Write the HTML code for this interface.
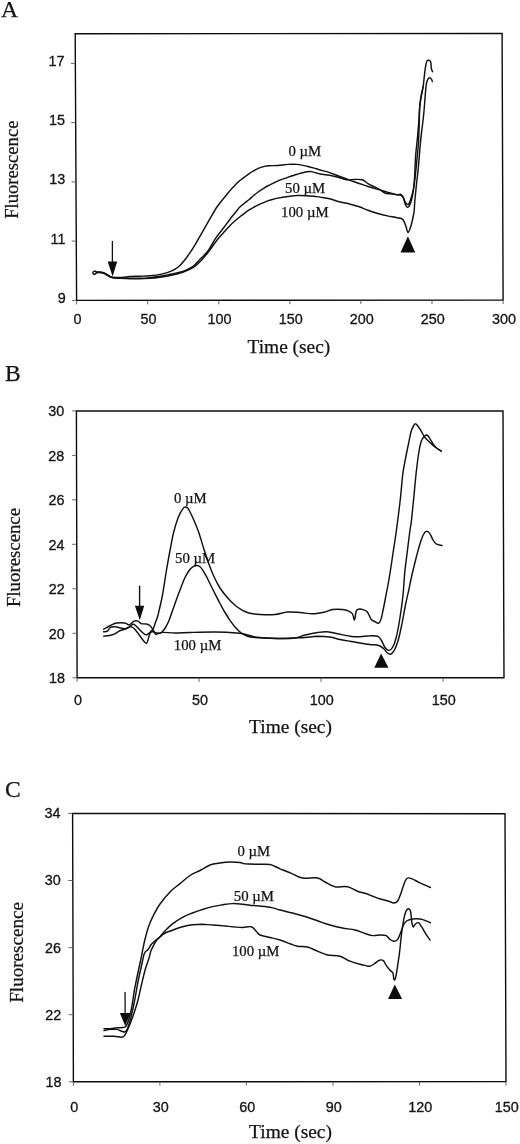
<!DOCTYPE html>
<html><head><meta charset="utf-8"><title>Fluorescence</title>
<style>html,body{margin:0;padding:0;background:#fff;}svg{display:block;filter:grayscale(1);}.s{font-family:"Liberation Serif",serif;fill:#141414;stroke:#141414;stroke-width:.25;}.n{font-family:"Liberation Sans",sans-serif;fill:#141414;stroke:#141414;stroke-width:.3;font-size:14.4px;}.ax{stroke:#0c0c0c;stroke-width:1.4;fill:none;stroke-linejoin:miter;}.tk{stroke:#666;stroke-width:1;fill:none;}.c{stroke:#111;stroke-width:1.45;fill:none;stroke-linejoin:round;stroke-linecap:round;}.k{fill:#0c0c0c;stroke:none;}</style></head><body>
<svg width="520" height="1144" viewBox="0 0 520 1144">
<rect x="0" y="0" width="520" height="1144" fill="#ffffff"/>
<g id="panelA">
<polygon class="ax" points="75.2,33.8 502.1,33.5 503.1,300 76.6,300.4"/>
<line class="tk" x1="70.9" y1="63.4" x2="74.9" y2="63.4"/>
<text class="n" transform="translate(64.6 65.9) scale(1 1.06)" text-anchor="end">17</text>
<line class="tk" x1="71.2" y1="122.6" x2="75.2" y2="122.6"/>
<text class="n" transform="translate(64.9 125.1) scale(1 1.06)" text-anchor="end">15</text>
<line class="tk" x1="71.5" y1="181.9" x2="75.5" y2="181.9"/>
<text class="n" transform="translate(65.2 184.4) scale(1 1.06)" text-anchor="end">13</text>
<line class="tk" x1="71.8" y1="241.1" x2="75.8" y2="241.1"/>
<text class="n" transform="translate(65.5 243.6) scale(1 1.06)" text-anchor="end">11</text>
<line class="tk" x1="72.1" y1="300.4" x2="76.1" y2="300.4"/>
<text class="n" transform="translate(65.8 302.9) scale(1 1.06)" text-anchor="end">9</text>
<line class="tk" x1="76.6" y1="300.9" x2="76.6" y2="304.4"/>
<text class="n" transform="translate(77.4 324.3) scale(1 1.06)" text-anchor="middle">0</text>
<line class="tk" x1="147.7" y1="300.8" x2="147.7" y2="304.3"/>
<text class="n" transform="translate(148.5 324.3) scale(1 1.06)" text-anchor="middle">50</text>
<line class="tk" x1="218.8" y1="300.8" x2="218.8" y2="304.3"/>
<text class="n" transform="translate(219.6 324.3) scale(1 1.06)" text-anchor="middle">100</text>
<line class="tk" x1="289.9" y1="300.7" x2="289.9" y2="304.2"/>
<text class="n" transform="translate(290.7 324.3) scale(1 1.06)" text-anchor="middle">150</text>
<line class="tk" x1="360.9" y1="300.6" x2="360.9" y2="304.1"/>
<text class="n" transform="translate(361.7 324.3) scale(1 1.06)" text-anchor="middle">200</text>
<line class="tk" x1="432" y1="300.6" x2="432" y2="304.1"/>
<text class="n" transform="translate(432.8 324.3) scale(1 1.06)" text-anchor="middle">250</text>
<line class="tk" x1="503.1" y1="300.5" x2="503.1" y2="304"/>
<text class="n" transform="translate(503.9 324.3) scale(1 1.06)" text-anchor="middle">300</text>
<text class="s" x="1.1" y="16.8" font-size="23.6">A</text>
<text class="s" font-size="18.65" text-anchor="middle" transform="translate(17.8 169.7) rotate(-90)">Fluorescence</text>
<text class="s" font-size="19.4" text-anchor="middle" x="288.9" y="353.2">Time (sec)</text>
<path class="c" d="M96.8 272C96.6 271.9 96 271.4 95.5 271.3C95 271.2 94 271.2 93.6 271.5C93.1 271.8 92.8 272.4 92.8 272.8C92.8 273.2 93.2 273.8 93.6 274C94 274.2 94.8 274.2 95.3 274C95.8 273.8 96 273 96.6 272.7C97.2 272.4 98.2 272.1 99 272C99.8 271.9 100.8 272.1 101.5 272.2C102.2 272.3 102.8 272.4 103.5 272.7C104.2 273 105.1 273.5 106 274C106.9 274.5 107.9 275.2 109 275.8C110.1 276.4 110.9 277 112.7 277.3C114.5 277.6 117.8 277.4 120 277.4C122.2 277.3 124.3 277.1 126 277C127.7 276.9 127.7 276.6 130 276.5C132.3 276.4 136.7 276.3 140 276.2C143.3 276.1 146.4 276.1 150 275.8C153.6 275.5 158 274.9 161.5 274.1C165 273.3 168.3 272.5 171.2 271.2C174.1 269.9 176.2 268.8 178.8 266.5C181.4 264.2 183.9 261.1 186.5 257.7C189.1 254.3 191.6 250.3 194.2 246.2C196.8 242 199.3 237.3 201.9 232.8C204.5 228.3 207 223.7 209.6 219.3C212.2 214.9 214.7 210.3 217.3 206.5C219.9 202.7 222.9 199.3 225 196.7C227.1 194 228.4 192.5 230 190.6C231.6 188.7 233.2 187 234.8 185.4C236.4 183.8 238 182.2 239.6 180.8C241.2 179.4 242.8 178.4 244.4 177.2C246 176 247.6 174.7 249.2 173.6C250.8 172.5 252.4 171.6 254 170.7C255.6 169.8 257.2 168.9 258.8 168.2C260.4 167.5 262.1 167 263.7 166.6C265.3 166.2 266.1 165.9 268.5 165.7C270.9 165.5 274.8 165.7 278 165.5C281.2 165.3 284.5 164.6 287.7 164.4C290.9 164.2 294.1 164.1 297.3 164.4C300.5 164.7 303.7 165.5 306.9 166.2C310.1 166.9 314.3 168.2 316.5 168.8C318.7 169.4 317.8 169.4 320 170C322.2 170.6 326.4 171.6 329.6 172.6C332.8 173.6 336 175 339.2 176.2C342.4 177.4 345.6 178.7 348.8 179.9C352 181.1 355.3 182.1 358.5 183.2C361.7 184.3 364.8 185.5 368 186.5C371.2 187.5 374.5 188.5 377.7 189.4C380.9 190.3 384.1 191.3 387.3 192.2C390.5 193.1 394.8 194.2 397 194.6C399.2 194.9 399.4 194 400.4 194.3C401.3 194.6 402.1 195.3 402.7 196.4C403.3 197.5 403.7 199.3 404.2 200.8C404.7 202.3 405.2 204.3 405.8 205.4C406.4 206.5 407.1 207.5 407.8 207.4C408.5 207.3 409.2 206.1 409.9 204.6C410.6 203.1 411.3 201.1 411.9 198.5C412.5 195.9 413.1 192.5 413.5 189.2C413.9 185.9 414.1 184.2 414.5 178.5C414.9 172.8 415.2 161.6 415.7 155C416.2 148.4 416.8 144.5 417.3 139.2C417.8 133.9 418.3 128.3 418.7 123.4C419.1 118.5 419.3 112.8 419.5 110C419.7 107.2 419.4 108.6 419.7 106.5C419.9 104.4 420.4 100.5 421 97.2C421.6 93.9 422.6 90.2 423.1 86.7C423.7 83.2 423.9 79.7 424.3 76.2C424.7 72.7 425.3 68.2 425.7 65.7C426.1 63.2 426.4 62.1 426.8 61.2C427.2 60.3 427.7 60.2 428.3 60.2C428.9 60.2 429.8 60.6 430.2 61.2C430.6 61.8 430.8 62.5 431 63.6C431.2 64.7 431 66.6 431.2 67.8C431.4 69 431.8 69.8 432 70.5C432.2 71.2 432.6 71.6 432.7 71.8"/>
<path class="c" d="M96.5 272.4C96.9 272.4 97.8 272.2 99 272.3C100.2 272.4 102.3 272.6 103.5 272.9C104.7 273.2 105.1 273.7 106 274.2C106.9 274.7 107.9 275.4 109 276C110.1 276.6 110.9 277.3 112.7 277.6C114.5 277.9 117.1 277.9 120 278C122.9 278.1 126.7 278.1 130 278.2C133.3 278.2 136.7 278.4 140 278.3C143.3 278.2 146.7 277.9 150 277.6C153.3 277.3 156.8 276.8 160 276.3C163.2 275.8 165.4 275.3 169.2 274.5C173 273.7 178.8 272.7 182.7 271.4C186.5 270.1 189.4 268.9 192.3 266.9C195.2 264.9 197.4 261.8 200 259.2C202.6 256.6 205.1 254.7 207.7 251.3C210.3 247.9 212.8 242.4 215.4 238.6C218 234.8 220.7 231.7 223.1 228.5C225.5 225.3 228.1 221.8 230 219.2C231.9 216.6 233.2 215.2 234.8 213.2C236.4 211.2 238 209 239.6 207.3C241.2 205.7 242.8 204.6 244.4 203.3C246 202 247.6 200.8 249.2 199.5C250.8 198.2 252.4 196.5 254 195.2C255.6 193.9 257.2 192.7 258.8 191.5C260.4 190.3 262.1 189.3 263.7 188.3C265.3 187.3 266.9 186.3 268.5 185.5C270.1 184.7 271.7 184 273.3 183.2C274.9 182.4 275.6 181.8 278 180.8C280.4 179.8 284.5 178.5 287.7 177.4C290.9 176.3 294.1 175.2 297.3 174.3C300.5 173.4 304.6 172.2 306.9 171.8C309.2 171.4 309.4 171.4 311 171.6C312.6 171.8 315 172.6 316.5 173C318 173.4 317.8 173.6 320 174C322.2 174.4 326.4 174.6 329.6 175.2C332.8 175.8 336.3 176.7 339.2 177.5C342.1 178.3 344.3 179.5 346.9 179.8C349.5 180.1 352 179.4 354.6 179.4C357.2 179.4 360.1 179.1 362.3 179.8C364.5 180.5 366.1 182.6 368 183.7C369.9 184.8 371.9 185.6 373.8 186.5C375.7 187.4 377.7 188.3 379.6 189.4C381.5 190.5 383.5 192.6 385.4 193.3C387.3 194 389.3 193.5 391.2 193.8C393.1 194.1 395.5 194.7 397 194.9C398.5 195.1 399.4 194.8 400.4 195.2C401.4 195.6 402.4 196.3 403.2 197.4C404 198.5 404.4 200.4 405 201.5C405.6 202.6 406 203.3 406.5 203.8C407 204.3 407.6 204.8 408.1 204.6C408.6 204.3 409 203.7 409.6 202.3C410.2 201 410.8 198.9 411.5 196.5C412.2 194.1 413.1 191.6 413.7 188C414.3 184.4 414.9 179.7 415.4 175C415.9 170.3 416.4 165 416.9 160C417.4 155 417.9 150.8 418.3 145C418.7 139.2 419 131.2 419.2 125C419.4 118.8 419.4 112.6 419.7 108C420 103.4 420.4 100.8 421 97.2C421.6 93.7 422.8 88.5 423.1 86.7"/>
<path class="c" d="M96.5 272.8C96.9 272.8 97.8 272.5 99 272.6C100.2 272.7 102.3 272.9 103.5 273.2C104.7 273.5 105.1 274 106 274.5C106.9 275 107.9 275.7 109 276.3C110.1 276.9 110.9 277.5 112.7 277.9C114.5 278.2 117.1 278.3 120 278.4C122.9 278.5 126.7 278.6 130 278.7C133.3 278.8 136.7 278.9 140 278.8C143.3 278.8 146.7 278.6 150 278.4C153.3 278.1 156.8 277.7 160 277.3C163.2 276.9 165.4 276.6 169.2 275.8C173 275 178.5 273.8 182.7 272.3C186.9 270.8 191 269 194.2 266.9C197.4 264.8 199.3 262.5 201.9 259.7C204.5 256.9 207 253.6 209.6 250.3C212.2 247 214.7 242.9 217.3 239.7C219.9 236.5 222.9 233.4 225 231C227.1 228.6 228.4 227.2 230 225.5C231.6 223.8 233.2 222.4 234.8 221C236.4 219.6 238 218.3 239.6 217C241.2 215.7 242.8 214.5 244.4 213.3C246 212.1 247.6 210.9 249.2 209.9C250.8 208.9 252.4 208.1 254 207.2C255.6 206.3 257.2 205.4 258.8 204.6C260.4 203.8 262.1 203.3 263.7 202.6C265.3 201.9 266.9 201.1 268.5 200.6C270.1 200.1 271.7 199.7 273.3 199.3C274.9 198.9 275.6 198.6 278 198.1C280.4 197.6 284.5 196.9 287.7 196.5C290.9 196.1 294.1 195.6 297.3 195.5C300.5 195.4 303.7 195.5 306.9 195.7C310.1 195.9 314.3 196.4 316.5 196.6C318.7 196.8 317.8 196.7 320 197.1C322.2 197.5 326.4 198 329.6 198.8C332.8 199.6 336 200.9 339.2 201.7C342.4 202.5 345.6 203 348.8 203.8C352 204.6 355.3 205.4 358.5 206.5C361.7 207.6 364.8 209.1 368 210.3C371.2 211.5 374.5 212.6 377.7 213.5C380.9 214.4 384.1 215.2 387.3 215.9C390.5 216.6 394.4 217.1 397 217.7C399.6 218.3 401.3 218.1 402.7 219.4C404.1 220.7 404.7 223.1 405.6 225.3C406.5 227.5 407.2 232.6 408.1 232.5C409 232.4 410.2 228.2 411.2 225C412.1 221.8 413.2 216.7 413.8 213.5C414.4 210.3 414.3 208.4 414.5 206C414.7 203.6 414.6 202.8 415 199C415.4 195.2 416.1 188.2 416.6 183C417.2 177.8 417.7 174.4 418.3 168C418.9 161.6 419.7 151 420.3 144.4C420.9 137.8 421.4 133.6 422 128.7C422.6 123.8 423.2 119.4 423.6 115C424.1 110.6 424.4 106.3 424.7 102.5C425 98.7 425.2 95.2 425.5 92C425.8 88.8 426 85.7 426.4 83.6C426.8 81.5 427.2 80.4 427.8 79.4C428.4 78.4 429.1 77.8 429.7 77.8C430.3 77.8 431.1 78.8 431.5 79.4C431.9 80 432.2 81.2 432.3 81.5"/>
<line class="c" style="stroke-width:1.3" x1="112.4" y1="241.5" x2="112.4" y2="262.5"/>
<polygon class="k" points="107.7,261.5 117.2,261.5 112.6,276.5"/>
<polygon class="k" points="407.9,236.3 415.3,252.4 400.5,252.4"/>
<text class="s" font-size="14.8" x="288.5" y="156.3">0 µM</text>
<text class="s" font-size="14.8" x="285" y="193">50 µM</text>
<text class="s" font-size="14.8" x="281" y="216.6">100 µM</text>
</g>
<g id="panelB">
<polygon class="ax" points="76.4,410.9 503,411 504,677.8 77.1,677.8"/>
<line class="tk" x1="71.9" y1="410.9" x2="75.9" y2="410.9"/>
<text class="n" transform="translate(64.2 416.2) scale(1 1.06)" text-anchor="end">30</text>
<line class="tk" x1="72" y1="455.4" x2="76" y2="455.4"/>
<text class="n" transform="translate(64.3 460.7) scale(1 1.06)" text-anchor="end">28</text>
<line class="tk" x1="72.1" y1="499.8" x2="76.1" y2="499.8"/>
<text class="n" transform="translate(64.4 505.1) scale(1 1.06)" text-anchor="end">26</text>
<line class="tk" x1="72.2" y1="544.3" x2="76.2" y2="544.3"/>
<text class="n" transform="translate(64.5 549.6) scale(1 1.06)" text-anchor="end">24</text>
<line class="tk" x1="72.4" y1="588.8" x2="76.4" y2="588.8"/>
<text class="n" transform="translate(64.7 594.1) scale(1 1.06)" text-anchor="end">22</text>
<line class="tk" x1="72.5" y1="633.3" x2="76.5" y2="633.3"/>
<text class="n" transform="translate(64.8 638.6) scale(1 1.06)" text-anchor="end">20</text>
<line class="tk" x1="72.6" y1="677.8" x2="76.6" y2="677.8"/>
<text class="n" transform="translate(64.9 683) scale(1 1.06)" text-anchor="end">18</text>
<line class="tk" x1="77.1" y1="678.2" x2="77.1" y2="681.8"/>
<text class="n" transform="translate(77.9 704.5) scale(1 1.06)" text-anchor="middle">0</text>
<line class="tk" x1="199.1" y1="678.2" x2="199.1" y2="681.8"/>
<text class="n" transform="translate(199.9 704.5) scale(1 1.06)" text-anchor="middle">50</text>
<line class="tk" x1="321" y1="678.2" x2="321" y2="681.8"/>
<text class="n" transform="translate(321.8 704.5) scale(1 1.06)" text-anchor="middle">100</text>
<line class="tk" x1="443" y1="678.2" x2="443" y2="681.8"/>
<text class="n" transform="translate(443.8 704.5) scale(1 1.06)" text-anchor="middle">150</text>
<text class="s" x="4.9" y="381.3" font-size="23.6">B</text>
<text class="s" font-size="18.8" text-anchor="middle" transform="translate(20.2 557.5) rotate(-90)">Fluorescence</text>
<text class="s" font-size="19.4" text-anchor="middle" x="290.5" y="733">Time (sec)</text>
<path class="c" d="M103.6 631.8C104.2 631.6 106.2 631.8 107.4 631.1C108.6 630.4 109.2 628.1 110.5 627.4C111.8 626.7 113.8 626.6 115.5 626.8C117.2 626.9 118.9 627.7 120.5 628C122.1 628.3 123.4 628.8 124.9 628.6C126.4 628.4 127.9 627.5 129.2 626.8C130.6 626 132 624.5 133 624.2C134 624 133.8 624 135.5 625.5C137.2 627 141.2 631.4 143 633C144.8 634.6 145.2 634.8 146.1 634.9C147 635 147.8 634.2 148.6 633.6C149.4 633 150.4 631.8 151.1 631.1C151.8 630.4 152.2 630.8 153 629.2C153.8 627.7 154.9 624.1 155.7 621.8C156.5 619.4 156.9 619.5 158 615C159.1 610.5 161.1 602.5 162.5 595C163.9 587.5 165.2 577.5 166.5 570C167.8 562.5 168.9 556.2 170.1 550C171.3 543.8 172.2 537.9 173.6 532.5C174.9 527.1 176.7 521.5 178.2 517.5C179.7 513.5 181.6 510.5 182.8 508.8C184 507 184.5 506.9 185.5 507C186.5 507.1 187.4 507.3 188.8 509.5C190.1 511.7 192.1 516.2 193.8 520C195.4 523.8 197.1 527.7 198.8 532.5C200.4 537.3 202.1 543.5 203.8 548.8C205.4 554 207.1 559.2 208.8 563.8C210.4 568.3 211.9 572.3 213.8 576.3C215.6 580.3 217.7 584.4 220 588C222.3 591.6 225 594.8 227.5 597.7C230 600.6 232.5 603.1 235 605.2C237.5 607.3 240 608.9 242.5 610.3C245 611.6 247.1 612.6 250 613.3C252.9 614 255.8 614.3 260 614.5C264.2 614.7 270.4 614.9 275 614.5C279.6 614.1 283.3 612.3 287.5 612C291.7 611.7 295.8 612.2 300 612.5C304.2 612.8 308.3 613.8 312.5 613.8C316.7 613.7 321.7 612.7 325 612C328.3 611.3 329.6 609.9 332.5 609.5C335.4 609.1 339.8 609.2 342.5 609.5C345.2 609.8 347.1 610.5 348.8 611.2C350.4 612 351.5 612.3 352.5 613.8C353.5 615.2 353.9 620.4 354.5 620C355.1 619.6 355.6 613 356.2 611.2C356.9 609.5 357.4 609.5 358.5 609.2C359.6 608.9 361.7 609.2 363.1 609.6C364.5 610 365.9 610.5 366.9 611.5C367.9 612.5 368.4 614 369.2 615.4C370 616.8 370.6 618.8 371.5 619.8C372.4 620.8 373.4 620.9 374.6 621.5C375.8 622.1 377.4 623.6 378.5 623.3C379.6 623 380.1 621.7 380.9 619.5C381.7 617.3 382.4 613.3 383.1 610C383.8 606.7 384.2 604.9 385.2 599.5C386.2 594.1 388 585.3 389.3 577.5C390.6 569.7 391.9 560.8 393.1 552.5C394.4 544.2 395.6 536.7 396.8 527.5C398 518.3 399.5 506.7 400.5 497.5C401.5 488.3 402 479.6 403 472.5C404 465.4 405.3 460 406.2 455C407.2 450 407.9 446.5 408.8 442.5C409.6 438.5 410.4 434.1 411.2 431.2C412.1 428.4 413 426.8 413.8 425.5C414.5 424.2 414.8 423.6 415.5 423.8C416.2 423.9 417 425 418 426.2C419 427.5 420.1 429.4 421.2 431.2C422.4 433.1 423.5 435.6 425 437.5C426.5 439.4 428.3 440.9 430 442.5C431.7 444.1 433.1 445.5 435 447C436.9 448.5 440.2 450.5 441.2 451.2"/>
<path class="c" d="M103.6 636.1C104.5 636 107.5 635.8 109.2 635.5C111 635.2 112.6 635 114.2 634.2C115.9 633.5 117.5 631.9 119.2 631.1C121 630.3 123.2 629.9 124.9 629.2C126.6 628.6 128.1 627.8 129.2 627.4C130.4 627 130.7 626.3 131.8 626.8C132.8 627.2 134 628.2 135.5 629.9C137 631.6 138.8 634.6 140.5 636.8C142.2 638.9 144.3 642.2 145.5 643C146.7 643.8 146.8 643 147.4 641.8C148 640.5 148.7 637.1 149.2 635.5C149.8 633.9 149.9 633 150.5 632.4C151.1 631.8 152 631.6 153 631.8C154 631.9 155.6 632.7 156.8 633C157.9 633.3 159 633.5 160 633.3C161 633 161.6 632.5 162.5 631.5C163.4 630.5 164.4 629.3 165.5 627.5C166.6 625.7 167.5 624.2 169 620.5C170.5 616.8 172.7 610.1 174.5 605C176.3 599.9 178.2 594.6 180 590C181.8 585.4 183.4 580.8 185 577.5C186.6 574.2 188.1 571.9 189.5 570C190.9 568.1 192.3 567.1 193.5 566.4C194.7 565.6 195.4 565.4 196.5 565.5C197.6 565.6 198.6 565.4 200 566.8C201.4 568.1 203.3 570.9 205 573.8C206.7 576.6 208.3 580.4 210 583.8C211.7 587.1 213.3 590.5 215 593.8C216.7 597 218.3 600.4 220 603.5C221.7 606.6 223.3 609.7 225 612.5C226.7 615.3 228.3 617.9 230 620.3C231.7 622.7 233.1 624.9 235 627C236.9 629.1 239.2 631.5 241.2 633C243.3 634.5 245.2 635.5 247.5 636.2C249.8 637 252.1 637.2 255 637.5C257.9 637.8 260.8 637.8 265 638C269.2 638.2 275 638.5 280 638.5C285 638.5 290.8 638.6 295 638C299.2 637.4 301.2 635.9 305 635C308.8 634.1 313.8 633 317.5 632.5C321.2 632 324.2 631.5 327.5 631.8C330.8 632 333.8 633 337.5 633.8C341.2 634.5 346.2 635.8 350 636.2C353.8 636.8 356.7 636.8 360 636.8C363.3 636.7 367.1 635.8 370 635.8C372.9 635.7 375.6 635.5 377.5 636.2C379.4 637 380 638.1 381.2 640C382.5 641.9 383.8 645.8 385 647.5C386.2 649.2 387.5 650.5 388.8 650.5C390 650.5 391.2 649.7 392.5 647.5C393.8 645.3 395 642.5 396.2 637.5C397.5 632.5 398.9 624.6 400 617.5C401.1 610.4 402.2 602.9 403 595C403.8 587.1 404.2 577.5 405 570C405.8 562.5 406.7 556.7 407.5 550C408.3 543.3 409.4 534.6 410 530C410.6 525.4 410.6 527.9 411.2 522.5C411.9 517.1 412.9 505.8 413.8 497.5C414.6 489.2 415.4 480 416.2 472.5C417.1 465 417.9 457.7 418.8 452.5C419.6 447.3 420.3 444 421.2 441.2C422.2 438.5 423.5 437.3 424.5 436.2C425.5 435.2 426.1 434.6 427 435C427.9 435.4 428.9 437.1 430 438.8C431.1 440.4 432.5 443.3 433.8 445C435 446.7 436.2 447.7 437.5 448.8C438.8 449.8 440.6 450.8 441.2 451.2"/>
<path class="c" d="M103.6 629.2C104.8 628.6 108.3 626.5 110.5 625.5C112.7 624.5 114.3 623.4 116.8 623C119.2 622.6 122.8 622.7 124.9 623C127 623.3 127.7 625.2 129.2 624.9C130.8 624.6 132.8 621.7 134.2 621.1C135.7 620.5 136.9 620.7 138 621.1C139.1 621.5 139.8 623.1 141.1 623.6C142.4 624.1 144.6 623.7 146.1 624C147.6 624.3 148.8 624.5 149.9 625.5C151.1 626.5 152.1 628.4 153 629.9C153.9 631.4 154.7 633.6 155.5 634.2C156.3 634.9 156.8 633.9 158 633.6C159.2 633.3 160.2 632.5 163 632.4C165.8 632.3 170.5 633 175 633C179.5 633 183.3 632.7 190 632.5C196.7 632.3 206.7 631.9 215 632C223.3 632.1 234.6 632.8 240 633.2C245.4 633.8 245 634.4 247.5 635C250 635.6 252.1 636.5 255 637C257.9 637.5 260.8 637.8 265 638C269.2 638.2 275 638.5 280 638.5C285 638.5 290.8 638.2 295 638C299.2 637.8 301.2 637.8 305 637.5C308.8 637.2 313.3 636.3 317.5 636.2C321.7 636.2 326.2 636.5 330 637C333.8 637.5 336.7 638.8 340 639.5C343.3 640.2 346.7 640.7 350 641.2C353.3 641.8 356.7 642.5 360 643C363.3 643.5 366.9 644.1 370 644.5C373.1 644.9 376.5 644.8 378.8 645.5C381 646.2 382.3 647.5 383.8 648.8C385.2 650 386.4 652.1 387.5 653C388.6 653.9 389.5 654.5 390.5 654.2C391.5 654 392.6 653.2 393.8 651.2C394.9 649.3 396.2 646.5 397.5 642.5C398.8 638.5 400 633.3 401.2 627.5C402.5 621.7 403.8 613.8 405 607.5C406.2 601.2 407.5 595.8 408.8 590C410 584.2 411.2 577.9 412.5 572.5C413.8 567.1 415 562.3 416.2 557.5C417.5 552.7 418.8 547.7 420 543.8C421.2 539.8 422.6 535.8 423.8 533.8C424.9 531.7 426 531.2 427 531.2C428 531.2 429 532.3 430 533.8C431 535.2 432 538.3 433 540C434 541.7 434.8 542.8 436.2 543.8C437.8 544.7 441 545.2 442 545.5"/>
<line class="c" style="stroke-width:1.4" x1="139.6" y1="586.3" x2="139.6" y2="606.8"/>
<polygon class="k" points="134.9,605.8 144.2,605.8 139.8,620.3"/>
<polygon class="k" points="381.1,653.6 388.5,667.7 374.3,667.7"/>
<text class="s" font-size="14.8" x="174" y="503">0 µM</text>
<text class="s" font-size="14.8" x="175" y="563">50 µM</text>
<text class="s" font-size="14.8" x="173.8" y="649.5">100 µM</text>
</g>
<g id="panelC">
<polygon class="ax" points="72.6,813.4 505,813.8 506,1081.6 73.4,1081.8"/>
<line class="tk" x1="68.1" y1="813.4" x2="72.1" y2="813.4"/>
<text class="n" transform="translate(60.6 818.3) scale(1 1.06)" text-anchor="end">34</text>
<line class="tk" x1="68.3" y1="880.5" x2="72.3" y2="880.5"/>
<text class="n" transform="translate(60.8 885.4) scale(1 1.06)" text-anchor="end">30</text>
<line class="tk" x1="68.5" y1="947.6" x2="72.5" y2="947.6"/>
<text class="n" transform="translate(61 952.5) scale(1 1.06)" text-anchor="end">26</text>
<line class="tk" x1="68.7" y1="1014.7" x2="72.7" y2="1014.7"/>
<text class="n" transform="translate(61.2 1019.6) scale(1 1.06)" text-anchor="end">22</text>
<line class="tk" x1="68.9" y1="1081.8" x2="72.9" y2="1081.8"/>
<text class="n" transform="translate(61.4 1086.6) scale(1 1.06)" text-anchor="end">18</text>
<line class="tk" x1="73.4" y1="1082.2" x2="73.4" y2="1085.8"/>
<text class="n" transform="translate(74.2 1112) scale(1 1.06)" text-anchor="middle">0</text>
<line class="tk" x1="159.9" y1="1082.2" x2="159.9" y2="1085.7"/>
<text class="n" transform="translate(160.7 1112) scale(1 1.06)" text-anchor="middle">30</text>
<line class="tk" x1="246.4" y1="1082.2" x2="246.4" y2="1085.7"/>
<text class="n" transform="translate(247.2 1112) scale(1 1.06)" text-anchor="middle">60</text>
<line class="tk" x1="333" y1="1082.2" x2="333" y2="1085.7"/>
<text class="n" transform="translate(333.8 1112) scale(1 1.06)" text-anchor="middle">90</text>
<line class="tk" x1="419.5" y1="1082.1" x2="419.5" y2="1085.6"/>
<text class="n" transform="translate(420.3 1112) scale(1 1.06)" text-anchor="middle">120</text>
<line class="tk" x1="506" y1="1082.1" x2="506" y2="1085.6"/>
<text class="n" transform="translate(506.8 1112) scale(1 1.06)" text-anchor="middle">150</text>
<text class="s" x="5" y="796.8" font-size="23.6">C</text>
<text class="s" font-size="19.1" text-anchor="middle" transform="translate(22.9 952.4) rotate(-90)">Fluorescence</text>
<text class="s" font-size="19.4" text-anchor="middle" x="290.5" y="1138">Time (sec)</text>
<path class="c" d="M104 1028.8C105.1 1028.8 108.4 1028.9 110.5 1028.8C112.6 1028.6 114.7 1028 116.8 1027.8C118.8 1027.5 121.4 1027.8 123 1027.5C124.6 1027.2 125.2 1027.5 126.1 1026.2C127 1025 127.8 1022.7 128.6 1020C129.4 1017.3 130.5 1013.3 131.2 1010C131.9 1006.7 132.4 1003.3 132.9 1000C133.4 996.7 133.8 993.3 134.4 990C135 986.7 135.4 985 136.4 980C137.4 975 139.3 966.7 140.7 960C142.1 953.3 143.5 945.4 144.8 940C146.1 934.6 147 931.4 148.3 927.5C149.6 923.6 150.9 920.5 152.8 916.6C154.8 912.7 157.1 908.1 160 904C162.9 899.9 166.7 895.3 170 891.9C173.3 888.5 176.7 886.3 180 883.6C183.3 880.9 186.7 877.7 190 875.5C193.3 873.3 196.7 872.2 200 870.5C203.3 868.8 206.7 866.2 210 865C213.3 863.8 216.7 863.5 220 863C223.3 862.5 226.7 862.1 230 862C233.3 861.9 237.5 862.2 240 862.5C242.5 862.8 242.1 863.5 245 863.8C247.9 864 253.3 864.1 257.5 864.2C261.7 864.4 266.2 863.8 270 864.5C273.8 865.2 276.2 867.2 280 868.8C283.8 870.3 288.8 872.2 292.5 873.8C296.2 875.3 298.3 877.3 302.5 878C306.7 878.7 313.8 877.3 317.5 878C321.2 878.7 322.1 880.5 325 882C327.9 883.5 331.2 886 335 886.8C338.8 887.5 343.8 886 347.5 886.8C351.2 887.5 354.6 890.2 357.5 891.2C360.4 892.3 362.5 892.5 365 893.3C367.5 894.1 370.1 895.2 372.7 896.2C375.3 897.2 377.8 898.2 380.4 899C383 899.8 385.9 900.4 388.1 901C390.3 901.6 392.2 902.9 393.8 902.9C395.4 902.9 396.6 902.5 397.7 901C398.8 899.5 399.6 896.8 400.6 894.2C401.6 891.6 402.6 888 403.5 885.6C404.4 883.2 405 881.1 405.8 879.8C406.6 878.5 407.2 878.1 408.3 877.9C409.4 877.7 410.4 878.1 412.1 878.8C413.9 879.5 415.8 880.8 418.8 882.3C421.9 883.8 428.5 886.6 430.4 887.5"/>
<path class="c" d="M104 1030.6C105.1 1030.4 108.4 1029.6 110.5 1029.4C112.6 1029.2 114.9 1029.1 116.8 1029.4C118.6 1029.7 120.4 1030.8 121.8 1031.2C123.1 1031.7 124 1032.3 124.9 1031.9C125.8 1031.5 126.6 1030.5 127.4 1028.8C128.2 1027 129.1 1024.2 129.9 1021.2C130.7 1018.3 131.6 1014.8 132.4 1011.2C133.2 1007.7 133.7 1005.2 134.7 1000C135.7 994.8 137.1 986.2 138.3 980C139.6 973.8 141.3 966.7 142.2 962.5C143.1 958.3 143.3 956.8 143.8 955C144.3 953.2 144.7 952.5 145.4 951.6C146.1 950.7 147 950.9 147.9 949.8C148.8 948.7 149.9 946.2 150.8 945C151.7 943.8 152.3 943.4 153.2 942.6C154.1 941.8 155 940.9 156 940C157 939.1 158.3 938.2 159.4 937.2C160.5 936.2 161.3 935 162.3 933.9C163.3 932.8 163.5 932.5 165.2 930.8C166.9 929.1 169.6 926.1 172.5 923.9C175.4 921.6 179.2 919.1 182.5 917.3C185.8 915.5 189.2 914.3 192.5 913C195.8 911.7 199.2 910.6 202.5 909.5C205.8 908.4 209.2 907.4 212.5 906.6C215.8 905.8 219.2 905.3 222.5 904.8C225.8 904.3 229.2 903.7 232.5 903.6C235.8 903.5 239.6 903.9 242.5 904.2C245.4 904.5 247.5 904.9 250 905.2C252.5 905.5 254.2 905.4 257.5 905.8C260.8 906.1 266.2 906.6 270 907.3C273.8 908 276.2 909 280 910C283.8 911 288.3 911.9 292.5 913C296.7 914.1 300.8 915.2 305 916.5C309.2 917.8 313.3 919.4 317.5 920.8C321.7 922.2 325.8 923.8 330 925C334.2 926.2 338.3 927.2 342.5 928C346.7 928.8 351.2 929.1 355 930C358.8 930.9 362.1 932.6 365 933.5C367.9 934.4 370.1 935.4 372.7 935.6C375.3 935.9 378.1 935 380.4 935C382.6 935 384.6 934.9 386.2 935.6C387.8 936.3 388.7 938.5 390 939.4C391.3 940.3 392.5 941.3 393.8 941.3C395.1 941.3 396.6 940.8 397.7 939.4C398.8 938 399.6 935.1 400.6 932.7C401.6 930.3 402.6 926.9 403.5 925C404.4 923.1 405 922.2 406.3 921.2C407.6 920.2 409.4 919.6 411.2 919.2C413 918.8 415 918.7 416.9 918.8C418.8 918.9 420.4 919 422.7 919.6C424.9 920.2 429.1 922.2 430.4 922.7"/>
<path class="c" d="M104 1036.2C105.7 1036.2 111.3 1036.1 114.2 1036.2C117.2 1036.4 120 1037.5 121.8 1037.2C123.5 1037 123.9 1036.4 124.9 1035C125.9 1033.6 127 1031 128 1028.8C129 1026.5 130.1 1024 131.1 1021.2C132.1 1018.5 133.1 1016 134.2 1012.5C135.4 1009 136.8 1004.6 138 1000C139.2 995.4 140.2 990 141.4 985C142.6 980 143.9 974.4 145.1 970C146.3 965.6 147.9 961.8 148.8 958.7C149.8 955.6 150.1 953.4 150.8 951.3C151.5 949.2 152.3 947.9 153.2 946.2C154.1 944.5 154.8 942.6 156 941C157.2 939.4 159.2 937.8 160.4 936.7C161.6 935.6 162.3 934.9 163.3 934.2C164.3 933.5 164.7 933.2 166.2 932.5C167.7 931.8 169.8 931.2 172.5 930.2C175.2 929.2 179.2 927.6 182.5 926.7C185.8 925.8 189.2 925.1 192.5 924.7C195.8 924.3 199.2 924.2 202.5 924.2C205.8 924.3 209.2 924.8 212.5 925C215.8 925.2 219.2 925.5 222.5 925.8C225.8 926 229.2 926.5 232.5 926.8C235.8 927 239.4 927.5 242.5 927.5C245.6 927.5 249 926.1 251.2 926.8C253.5 927.4 254.8 929.9 256.2 931.2C257.7 932.6 257.7 934 260 935C262.3 936 266.7 936.7 270 937.5C273.3 938.3 276.7 939 280 940C283.3 941 287.1 942.7 290 943.8C292.9 944.8 294.6 945.7 297.5 946.2C300.4 946.8 304.2 946.2 307.5 947C310.8 947.8 314.2 949.9 317.5 951.2C320.8 952.6 323.8 954.2 327.5 955C331.2 955.8 336.2 955.2 340 956.2C343.8 957.3 346.7 959.9 350 961.2C353.3 962.6 357.5 963.6 360 964.2C362.5 964.9 363.4 965.1 365 965.4C366.6 965.7 368.2 966.6 369.8 966.3C371.4 966 373 964.5 374.6 963.5C376.2 962.5 377.9 960.7 379.4 960.2C380.8 959.7 382.2 959.7 383.3 960.6C384.4 961.5 385.1 963.8 386.2 965.4C387.3 967 388.9 968.9 390 970.2C391.1 971.5 392.3 971.6 392.9 973C393.5 974.4 393.5 977.7 393.8 978.8C394.1 979.9 394.5 980.1 394.8 979.8C395.1 979.5 395.3 979.3 395.8 976.9C396.3 974.5 397.1 969.6 397.7 965.4C398.3 961.2 399.1 956.4 399.6 951.9C400.2 947.4 400.5 942.7 401 938.5C401.5 934.3 401.9 930.6 402.5 926.9C403.1 923.2 403.8 919 404.4 916.3C405 913.6 405.6 911.9 406.3 910.6C407 909.3 408 908.6 408.7 908.7C409.4 908.9 410.1 909.4 410.6 911.5C411.1 913.6 411.3 918.6 411.7 921.2C412.1 923.8 412.5 926.4 413.1 926.9C413.7 927.4 414.5 924.7 415.4 924C416.3 923.3 417.4 922.2 418.5 922.7C419.6 923.2 420.5 925.1 421.7 926.9C422.9 928.7 424.2 931.5 425.6 933.7C427 935.9 429.3 939 430 940"/>
<line class="c" style="stroke-width:1.3" x1="125.1" y1="992.5" x2="125.1" y2="1014"/>
<polygon class="k" points="119.9,1013 130.3,1013 125.3,1026.3"/>
<polygon class="k" points="394.8,984.6 402.1,999 388,999"/>
<text class="s" font-size="14.8" x="237.5" y="855.5">0 µM</text>
<text class="s" font-size="14.8" x="233.8" y="901">50 µM</text>
<text class="s" font-size="14.8" x="231.9" y="956">100 µM</text>
</g>
</svg></body></html>
